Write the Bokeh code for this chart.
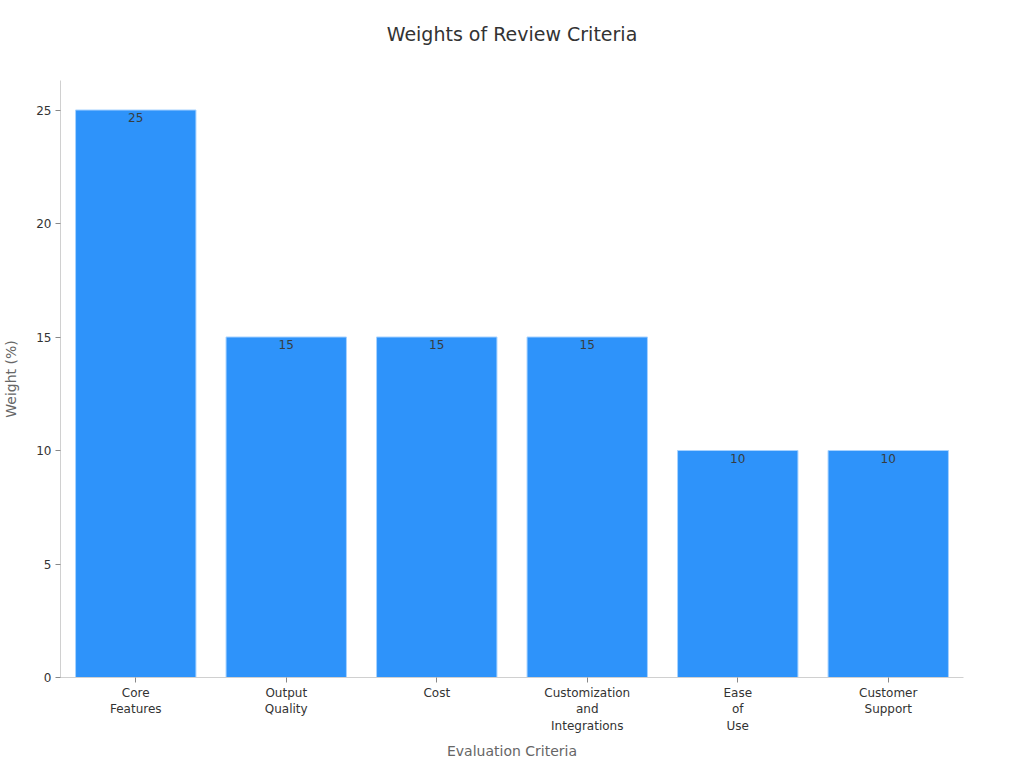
from bokeh.plotting import figure
from bokeh.models import ColumnDataSource, Range1d, LabelSet, Title
from bokeh.embed import file_html
from bokeh.resources import INLINE
from bokeh.core.properties import value

categories = ["Core\nFeatures", "Output\nQuality", "Cost", "Customization\nand\nIntegrations", "Ease\nof\nUse", "Customer\nSupport"]
weights = [25, 15, 15, 15, 10, 10]
title_text = "Weights of Review Criteria"

FONT = "DejaVu Sans"

src = ColumnDataSource(dict(cat=categories, w=weights, lab=[str(v) for v in weights]))

p = figure(x_range=categories, y_range=Range1d(0, 26.3), width=1008, height=762,
           output_backend="svg", toolbar_location=None,
           min_border_left=52, min_border_right=45, min_border_top=80, min_border_bottom=75)

p.vbar(x="cat", top="w", width=0.8, source=src, fill_color="#2E93FA", line_color="#a6d2ff", line_width=1)

labels = LabelSet(x="cat", y="w", text="lab", source=src, text_align="center", text_baseline="top",
                  y_offset=-3, text_font=value(FONT), text_font_size="12px", text_color="#373d3f")
p.add_layout(labels)

# real title (outer)
p.title.text = title_text
p.title.align = "center"
p.title.text_font = FONT
p.title.text_font_size = "19px"
p.title.text_font_style = "normal"
p.title.text_color = "#333333"
p.title.offset = 0
p.title.standoff = 0

# inner spacer title pushes the real title up, away from the frame
spacer = Title(text=" ", text_font=FONT, text_font_size="19px", standoff=12)
p.add_layout(spacer, "above")

p.xgrid.grid_line_color = None
p.ygrid.grid_line_color = None
p.outline_line_color = None

for ax in (p.xaxis, p.yaxis):
    ax.axis_line_color = "#d0d0d0"
    ax.major_tick_line_color = "#888888"
    ax.minor_tick_line_color = None
    ax.major_label_text_font = FONT
    ax.major_label_text_font_size = "12px"
    ax.major_label_text_color = "#333333"
    ax.axis_label_text_font = FONT
    ax.axis_label_text_font_size = "14px"
    ax.axis_label_text_font_style = "normal"
    ax.axis_label_text_color = "#666666"

p.xaxis.axis_label = "Evaluation Criteria"
p.yaxis.axis_label = "Weight (%)"
p.xaxis.major_tick_in = 0
p.xaxis.major_tick_out = 5
p.yaxis.major_tick_in = 0
p.yaxis.major_tick_out = 5
p.yaxis.ticker = [0, 5, 10, 15, 20, 25]
p.xaxis.major_label_standoff = 3
p.yaxis.major_label_standoff = 4
p.xaxis.axis_label_standoff = 7
p.yaxis.axis_label_standoff = 14

open("out.html", "w").write(file_html(p, INLINE))
